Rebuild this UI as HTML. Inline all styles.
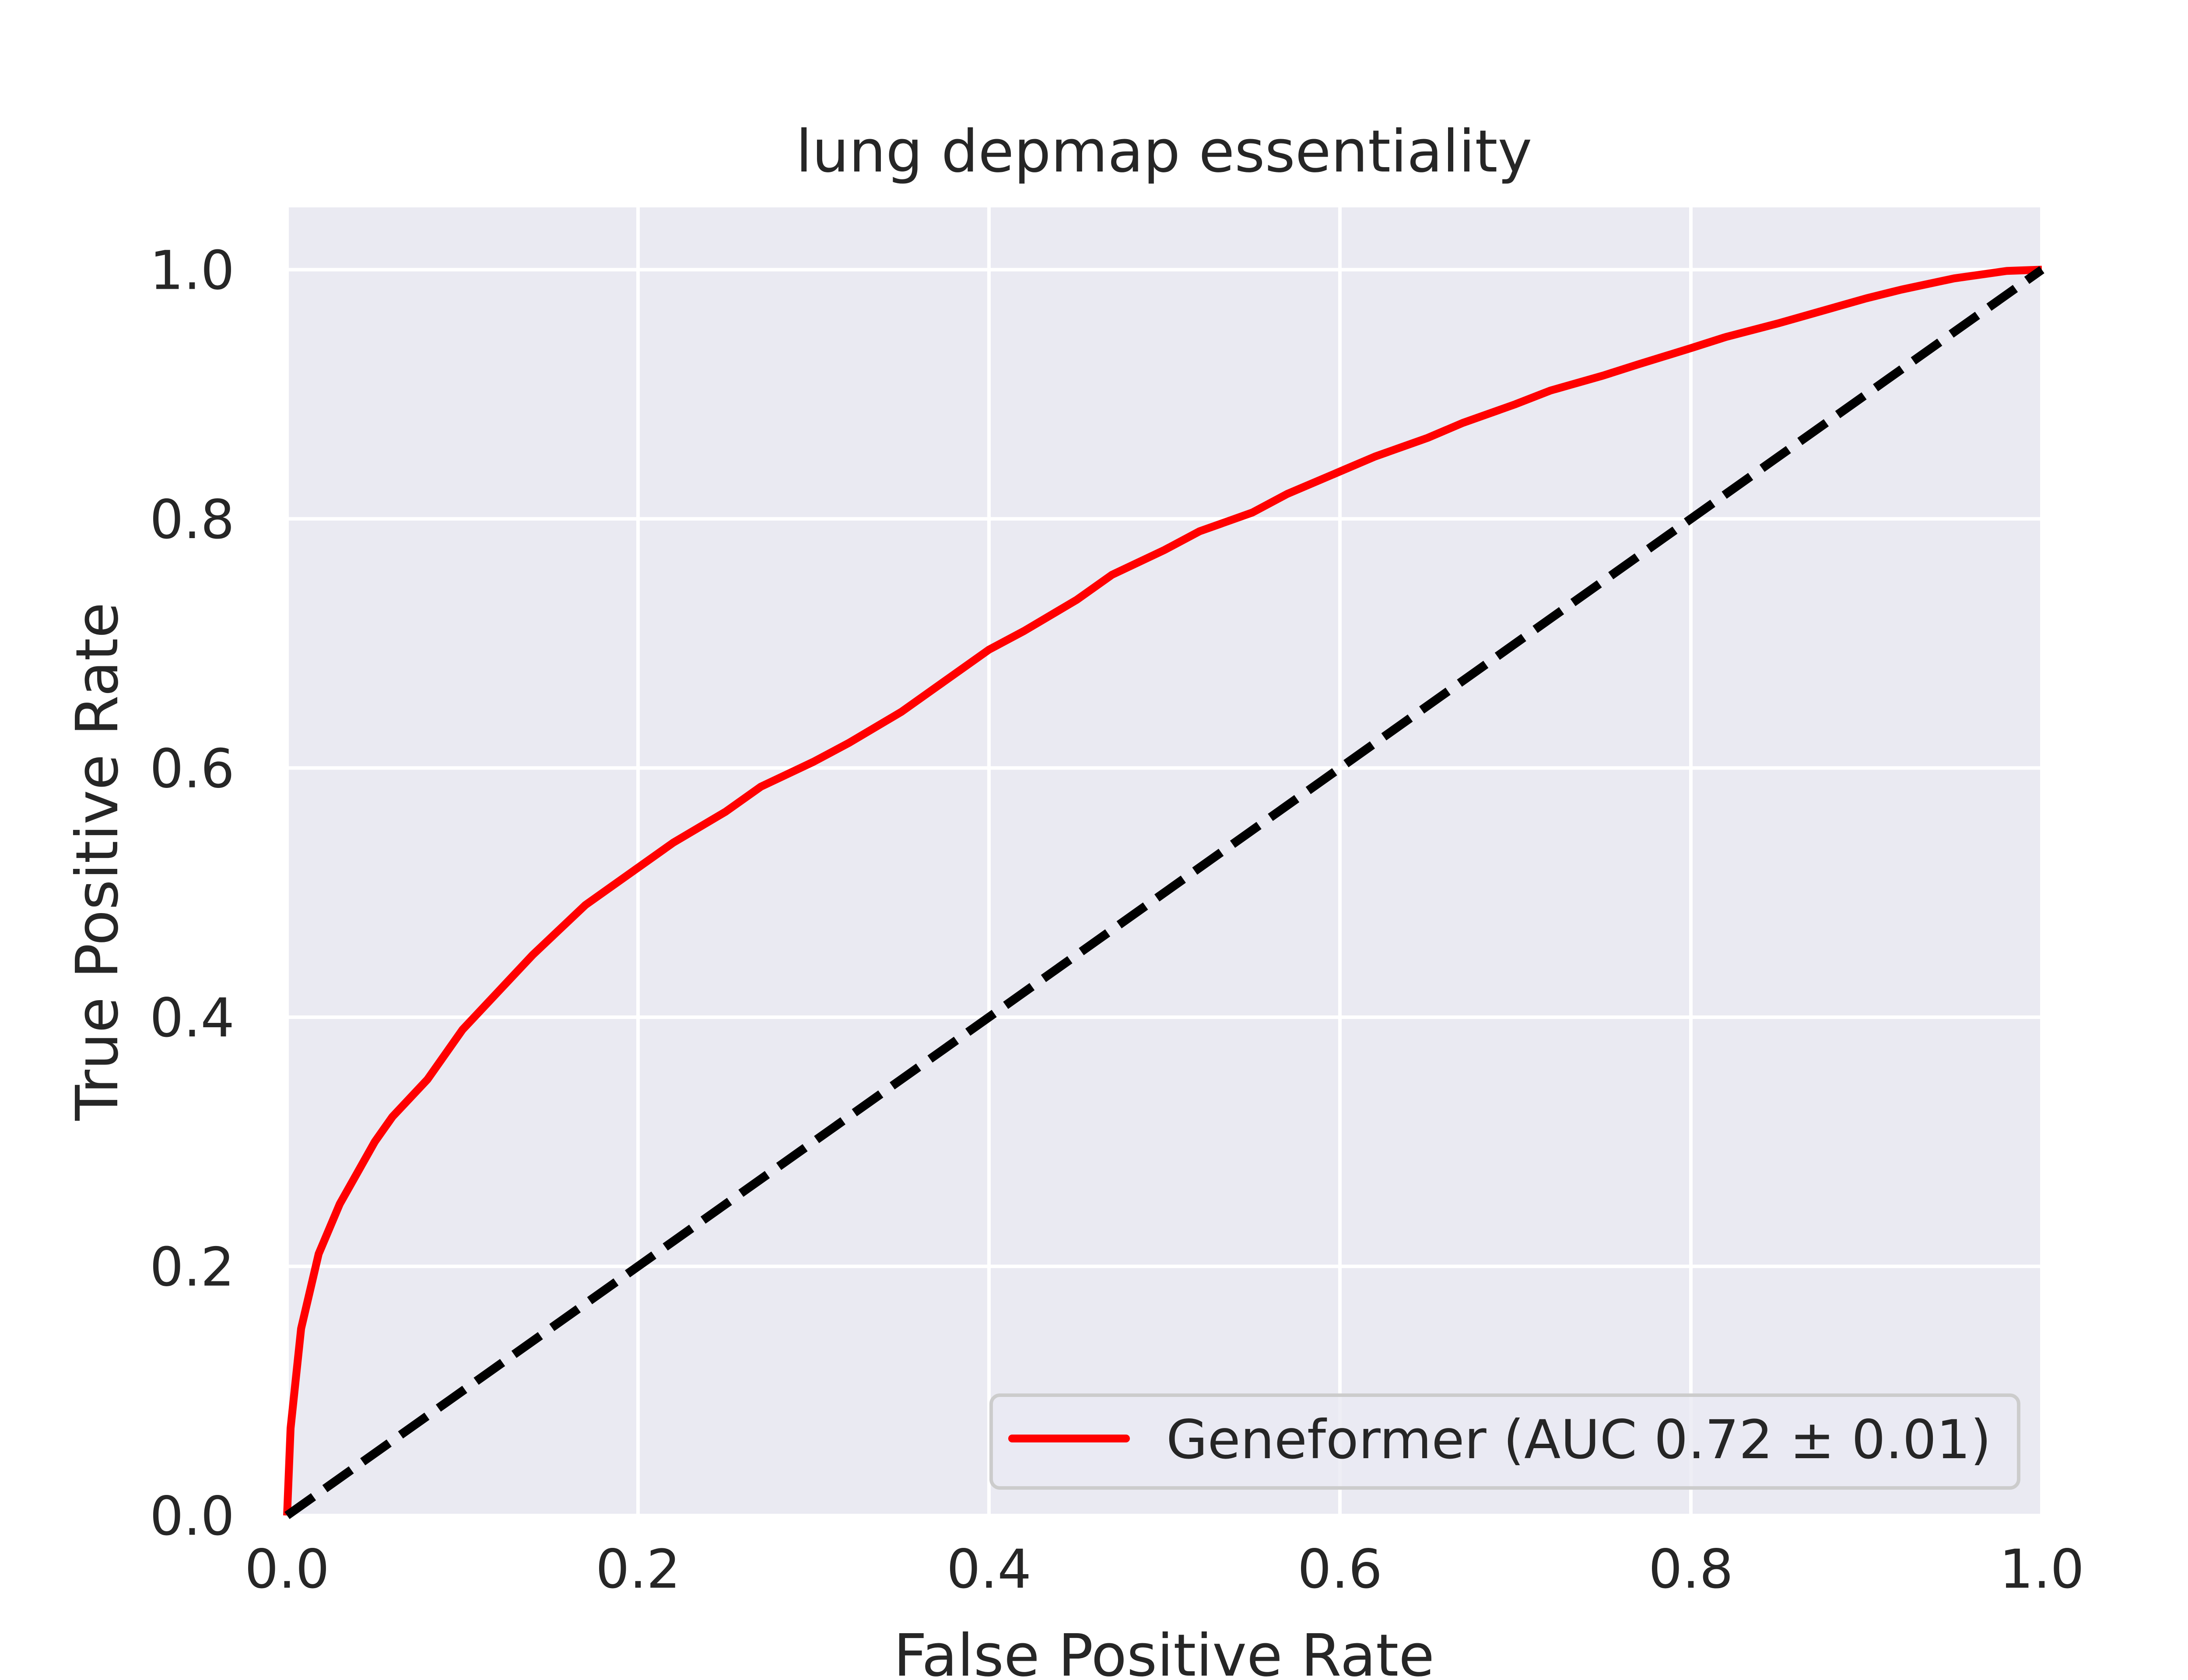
<!DOCTYPE html>
<html><head><meta charset="utf-8"><style>
html,body{margin:0;padding:0;background:#fff}
svg{display:block;font-family:"DejaVu Sans","Liberation Sans",sans-serif}
</style></head><body>
<svg id="chart" width="5120" height="3840" viewBox="0 0 5120 3840" xmlns="http://www.w3.org/2000/svg">
<rect width="5120" height="3840" fill="#fff"/>
<rect x="656" y="474" width="4010" height="2990" fill="#eaeaf2"/>
<g id="grid"></g>
<g id="ticks"></g>
<g id="series"></g>
<text x="2660" y="392" font-size="133" fill="#262626" text-anchor="middle">lung depmap essentiality</text>
<text x="2660" y="3830" font-size="133" fill="#262626" text-anchor="middle">False Positive Rate</text>
<text x="0" y="0" font-size="133" fill="#262626" text-anchor="middle" transform="translate(268,1969) rotate(-90)">True Positive Rate</text>
<g>
<rect x="2265" y="3189" width="2348" height="212" rx="20" fill="#eaeaf2" fill-opacity="0.8" stroke="#cccccc" stroke-width="8"/>
<line x1="2313" y1="3288" x2="2573" y2="3288" stroke="#ff0000" stroke-width="18" stroke-linecap="round"/>
<text x="2665" y="3333" font-size="122" fill="#262626">Geneformer (AUC 0.72 ± 0.01)</text>
</g>
</svg>
<script>
const fpr = [0,0.002,0.008,0.018,0.03,0.04,0.05,0.06,0.08,0.1,0.12,0.14,0.17,0.2,0.22,0.25,0.27,0.3,0.32,0.35,0.37,0.4,0.42,0.45,0.47,0.5,0.52,0.55,0.57,0.6,0.62,0.65,0.67,0.7,0.72,0.75,0.77,0.8,0.82,0.85,0.87,0.9,0.92,0.95,0.96,0.98,1];
const tpr = [0,0.07,0.15,0.21,0.25,0.275,0.3,0.32,0.35,0.39,0.42,0.45,0.49,0.52,0.54,0.565,0.585,0.605,0.62,0.645,0.665,0.695,0.71,0.735,0.755,0.775,0.79,0.805,0.82,0.838,0.85,0.865,0.877,0.892,0.903,0.915,0.924,0.937,0.946,0.957,0.965,0.977,0.984,0.993,0.995,0.999,1];
const diagX = [0,1];
const diagY = [0,1];
const xTicks = [0,0.2,0.4,0.6,0.8,1.0];
const yTicks = [0,0.2,0.4,0.6,0.8,1.0];
const NS="http://www.w3.org/2000/svg";
const L=656,R=4666,T=474,B=3464,yMax=1.05;
const sx=v=>L+v*(R-L);
const sy=v=>B-v/yMax*(B-T);
const grid=document.getElementById('grid'),ticks=document.getElementById('ticks'),series=document.getElementById('series');
function mk(tag,attrs,parent){const e=document.createElementNS(NS,tag);for(const k in attrs)e.setAttribute(k,attrs[k]);parent.appendChild(e);return e;}
xTicks.forEach(v=>{
  const g=mk('line',{x1:sx(v),x2:sx(v),y1:T,y2:B,stroke:'#fff','stroke-width':8},grid);
  
  
  const t=mk('text',{x:sx(v),y:B+165,'font-size':122,fill:'#262626','text-anchor':'middle'},ticks);
  t.textContent=v.toFixed(1);
  
  
});
yTicks.forEach(v=>{
  const g=mk('line',{x1:L,x2:R,y1:sy(v),y2:sy(v),stroke:'#fff','stroke-width':8},grid);
  
  
  const t=mk('text',{x:L-120,y:sy(v)+44,'font-size':122,fill:'#262626','text-anchor':'end'},ticks);
  t.textContent=v.toFixed(1);
  
  
});
const roc=mk('polyline',{points:fpr.map((x,i)=>sx(x)+','+sy(tpr[i])).join(' '),fill:'none',stroke:'#ff0000','stroke-width':18,'stroke-linejoin':'round'},series);


const d=mk('polyline',{points:diagX.map((x,i)=>sx(x)+','+sy(diagY[i])).join(' '),fill:'none',stroke:'#000','stroke-width':20,'stroke-dasharray':'74,32'},series);


</script>
</body></html>
